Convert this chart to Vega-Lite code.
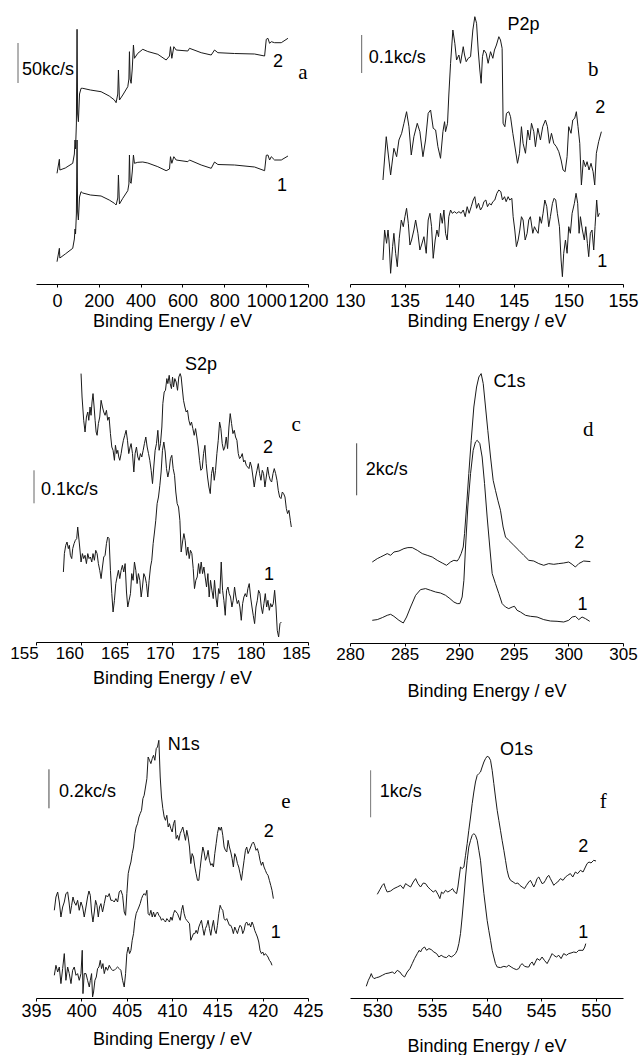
{
"$schema": "https://vega.github.io/schema/vega-lite/v6.json",
"background": "white",
"padding": {"left": 9, "top": 14, "right": 5, "bottom": 5},
"bounds": "flush",
"align": "each",
"columns": 2,
"spacing": {"row": 40, "column": 42},
"config": {
 "view": {"stroke": null},
 "axis": {"grid": false, "domainColor": "#000", "tickColor": "#000", "labelColor": "#000", "titleColor": "#000", "labelFont": "Liberation Sans", "titleFont": "Liberation Sans", "labelFontSize": 17, "titleFontSize": 18, "titleFontWeight": "normal", "tickSize": 3, "labelFlush": false, "labelOverlap": false, "domainWidth": 1, "tickWidth": 1, "format": "d"},
 "text": {"font": "Liberation Sans", "color": "#000"}
},
"concat": [
 {"width": 272, "height": 270,
  "layer": [
   {"data": {"values": [
    {"E":0.5,"I":22.3,"s":1},{"E":11.7,"I":35.7,"s":1},{"E":14,"I":26,"s":1},{"E":40,"I":30,"s":1},{"E":75.5,"I":35.7,"s":1},{"E":83.4,"I":45,"s":1},{"E":86.6,"I":55,"s":1},{"E":89,"I":50,"s":1},{"E":93,"I":70,"s":1},{"E":96.2,"I":144,"s":1},{"E":99,"I":72,"s":1},{"E":102.6,"I":64,"s":1},{"E":108,"I":87,"s":1},{"E":115.3,"I":92.3,"s":1},{"E":123.3,"I":91,"s":1},{"E":160,"I":89,"s":1},{"E":211,"I":88,"s":1},{"E":250,"I":84,"s":1},{"E":274.8,"I":80.7,"s":1},{"E":282.8,"I":79,"s":1},{"E":290.8,"I":86,"s":1},{"E":294,"I":109,"s":1},{"E":298.8,"I":80,"s":1},{"E":314.7,"I":85.7,"s":1},{"E":338.6,"I":93.3,"s":1},{"E":344,"I":100,"s":1},{"E":346.6,"I":129,"s":1},{"E":350,"I":102,"s":1},{"E":354.6,"I":100.7,"s":1},{"E":360,"I":112,"s":1},{"E":365.7,"I":129,"s":1},{"E":370.5,"I":120.7,"s":1},{"E":386.5,"I":121.7,"s":1},{"E":410.4,"I":122,"s":1},{"E":434.3,"I":121,"s":1},{"E":482.2,"I":117.3,"s":1},{"E":522,"I":113.3,"s":1},{"E":538,"I":115,"s":1},{"E":542.8,"I":127.3,"s":1},{"E":549.2,"I":120.7,"s":1},{"E":558.7,"I":127.3,"s":1},{"E":569.9,"I":124,"s":1},{"E":625.7,"I":122.3,"s":1},{"E":633.7,"I":124,"s":1},{"E":689.5,"I":119,"s":1},{"E":737.4,"I":115.7,"s":1},{"E":753.3,"I":122,"s":1},{"E":769.3,"I":119.5,"s":1},{"E":849,"I":119,"s":1},{"E":944.7,"I":117,"s":1},{"E":992.6,"I":113.3,"s":1},{"E":1000.6,"I":128.7,"s":1},{"E":1008.5,"I":129,"s":1},{"E":1016.5,"I":124,"s":1},{"E":1024.5,"I":127.3,"s":1},{"E":1040.4,"I":124,"s":1},{"E":1072.3,"I":124,"s":1},{"E":1104.2,"I":128,"s":1},
    {"E":0.5,"I":110.7,"s":2},{"E":11.7,"I":124.7,"s":2},{"E":14,"I":114,"s":2},{"E":40,"I":116,"s":2},{"E":75.5,"I":120.7,"s":2},{"E":83.4,"I":130,"s":2},{"E":86.6,"I":144,"s":2},{"E":89,"I":135,"s":2},{"E":93,"I":160,"s":2},{"E":96.2,"I":254.7,"s":2},{"E":99,"I":170,"s":2},{"E":102.6,"I":162.3,"s":2},{"E":108,"I":190,"s":2},{"E":115.3,"I":195.7,"s":2},{"E":123.3,"I":195.7,"s":2},{"E":160,"I":194,"s":2},{"E":211,"I":192.3,"s":2},{"E":250,"I":188,"s":2},{"E":274.8,"I":184,"s":2},{"E":282.8,"I":181.3,"s":2},{"E":290.8,"I":190,"s":2},{"E":294,"I":214,"s":2},{"E":298.8,"I":184,"s":2},{"E":314.7,"I":189,"s":2},{"E":338.6,"I":197.3,"s":2},{"E":344,"I":205,"s":2},{"E":346.6,"I":232.3,"s":2},{"E":350,"I":205,"s":2},{"E":354.6,"I":200.7,"s":2},{"E":360,"I":215,"s":2},{"E":365.7,"I":239,"s":2},{"E":370.5,"I":225.7,"s":2},{"E":386.5,"I":230.7,"s":2},{"E":410.4,"I":234.7,"s":2},{"E":434.3,"I":232.5,"s":2},{"E":482.2,"I":229.7,"s":2},{"E":522,"I":224,"s":2},{"E":538,"I":228,"s":2},{"E":542.8,"I":237.3,"s":2},{"E":549.2,"I":225.7,"s":2},{"E":558.7,"I":237.3,"s":2},{"E":569.9,"I":234,"s":2},{"E":625.7,"I":233,"s":2},{"E":633.7,"I":235.7,"s":2},{"E":689.5,"I":231.3,"s":2},{"E":737.4,"I":229,"s":2},{"E":753.3,"I":234,"s":2},{"E":769.3,"I":231.3,"s":2},{"E":849,"I":230.5,"s":2},{"E":944.7,"I":230,"s":2},{"E":992.6,"I":228,"s":2},{"E":1000.6,"I":244.7,"s":2},{"E":1008.5,"I":245.7,"s":2},{"E":1016.5,"I":240.7,"s":2},{"E":1024.5,"I":242.3,"s":2},{"E":1040.4,"I":241.3,"s":2},{"E":1072.3,"I":241.3,"s":2},{"E":1104.2,"I":245.7,"s":2}
   ]},
    "mark": {"type": "line", "color": "#1a1a1a", "strokeWidth": 1},
    "encoding": {
     "x": {"field": "E", "type": "quantitative", "title": "Binding Energy / eV", "scale": {"domain": [-100, 1200], "nice": false, "zero": false},
       "axis": {"values": [0,100,200,300,400,500,600,700,800,900,1000,1100,1200], "labelExpr": "datum.value % 200 === 0 ? datum.label : ''", "labelOverlap": false, "labelFlush": false, "labelPadding": 5, "labelFontSize": 18, "titleY": 28}},
     "y": {"field": "I", "type": "quantitative", "scale": {"domain": [0, 270], "nice": false, "zero": false}, "axis": null},
     "detail": {"field": "s", "type": "nominal"}}},
   {"data": {"values": [{"E": -186, "I": 201, "I2": 241}]}, "mark": {"type": "rule", "color": "#666", "strokeWidth": 1},
    "encoding": {"x": {"field": "E", "type": "quantitative", "title": "Binding Energy / eV"}, "y": {"field": "I", "type": "quantitative", "axis": null}, "y2": {"field": "I2"}}},
   {"data": {"values": [{"E": -167, "I": 214.5, "t": "50kc/s"}]}, "mark": {"type": "text", "align": "left", "baseline": "middle", "fontSize": 18},
    "encoding": {"x": {"field": "E", "type": "quantitative", "title": "Binding Energy / eV"}, "y": {"field": "I", "type": "quantitative", "axis": null}, "text": {"field": "t"}}},
   {"data": {"values": [{"E": 1057, "I": 222, "t": "2"}, {"E": 1076, "I": 98, "t": "1"}]}, "mark": {"type": "text", "align": "center", "baseline": "middle", "fontSize": 18},
    "encoding": {"x": {"field": "E", "type": "quantitative", "title": "Binding Energy / eV"}, "y": {"field": "I", "type": "quantitative", "axis": null}, "text": {"field": "t"}}},
   {"data": {"values": [{"E": 1176, "I": 211, "t": "a"}]}, "mark": {"type": "text", "align": "center", "baseline": "middle", "fontSize": 21, "font": "Liberation Serif"},
    "encoding": {"x": {"field": "E", "type": "quantitative", "title": "Binding Energy / eV"}, "y": {"field": "I", "type": "quantitative", "axis": null}, "text": {"field": "t"}}}
  ]},
 {"width": 273, "height": 270,
  "layer": [
   {"data": {"values": [
    {"E":133.02,"I":24,"s":1},{"E":133.17,"I":54,"s":1},{"E":133.35,"I":40.7,"s":1},{"E":133.48,"I":54,"s":1},{"E":133.57,"I":44,"s":1},{"E":133.72,"I":10.7,"s":1},{"E":133.90,"I":37.3,"s":1},{"E":134.02,"I":50.7,"s":1},{"E":134.18,"I":30.7,"s":1},{"E":134.33,"I":17.3,"s":1},{"E":134.51,"I":45.7,"s":1},{"E":134.70,"I":64,"s":1},{"E":134.88,"I":57.3,"s":1},{"E":135.03,"I":67.3,"s":1},{"E":135.18,"I":75.7,"s":1},{"E":135.34,"I":60.7,"s":1},{"E":135.49,"I":39,"s":1},{"E":135.64,"I":44,"s":1},{"E":135.85,"I":54,"s":1},{"E":136.01,"I":64,"s":1},{"E":136.22,"I":50.7,"s":1},{"E":136.40,"I":34,"s":1},{"E":136.55,"I":39,"s":1},{"E":136.77,"I":47.3,"s":1},{"E":136.98,"I":30.7,"s":1},{"E":137.16,"I":64,"s":1},{"E":137.32,"I":70.7,"s":1},{"E":137.47,"I":57.3,"s":1},{"E":137.62,"I":25.7,"s":1},{"E":137.80,"I":44,"s":1},{"E":137.96,"I":54,"s":1},{"E":138.11,"I":47.3,"s":1},{"E":138.29,"I":70.7,"s":1},{"E":138.45,"I":60.7,"s":1},{"E":138.60,"I":74,"s":1},{"E":138.75,"I":50.7,"s":1},{"E":138.90,"I":44,"s":1},{"E":139.05,"I":67.3,"s":1},{"E":139.21,"I":74,"s":1},{"E":139.36,"I":70.7,"s":1},{"E":139.57,"I":72.3,"s":1},{"E":139.76,"I":70.7,"s":1},{"E":139.97,"I":72.3,"s":1},{"E":140.18,"I":70.7,"s":1},{"E":140.37,"I":74,"s":1},{"E":140.55,"I":67.3,"s":1},{"E":140.73,"I":77.3,"s":1},{"E":140.91,"I":70.7,"s":1},{"E":141.10,"I":77.3,"s":1},{"E":141.28,"I":84,"s":1},{"E":141.43,"I":87.3,"s":1},{"E":141.59,"I":75.7,"s":1},{"E":141.77,"I":80.7,"s":1},{"E":141.95,"I":74,"s":1},{"E":142.13,"I":77.3,"s":1},{"E":142.26,"I":82.3,"s":1},{"E":142.44,"I":84,"s":1},{"E":142.59,"I":77.3,"s":1},{"E":142.77,"I":80.7,"s":1},{"E":142.93,"I":79,"s":1},{"E":143.08,"I":82.3,"s":1},{"E":143.26,"I":84,"s":1},{"E":143.45,"I":90.7,"s":1},{"E":143.63,"I":94,"s":1},{"E":143.81,"I":92.3,"s":1},{"E":143.96,"I":84,"s":1},{"E":144.15,"I":87.3,"s":1},{"E":144.30,"I":82.3,"s":1},{"E":144.48,"I":87.3,"s":1},{"E":144.63,"I":84,"s":1},{"E":144.82,"I":85.7,"s":1},{"E":144.94,"I":67.3,"s":1},{"E":145.09,"I":54,"s":1},{"E":145.24,"I":37.3,"s":1},{"E":145.40,"I":44,"s":1},{"E":145.55,"I":54,"s":1},{"E":145.70,"I":67.3,"s":1},{"E":145.85,"I":64,"s":1},{"E":146.04,"I":44,"s":1},{"E":146.22,"I":50.7,"s":1},{"E":146.37,"I":64,"s":1},{"E":146.52,"I":67.3,"s":1},{"E":146.74,"I":50.7,"s":1},{"E":146.89,"I":57.3,"s":1},{"E":147.04,"I":54,"s":1},{"E":147.23,"I":50.7,"s":1},{"E":147.38,"I":67.3,"s":1},{"E":147.53,"I":60.7,"s":1},{"E":147.68,"I":70.7,"s":1},{"E":147.84,"I":84,"s":1},{"E":148.02,"I":77.3,"s":1},{"E":148.20,"I":57.3,"s":1},{"E":148.35,"I":67.3,"s":1},{"E":148.54,"I":80.7,"s":1},{"E":148.69,"I":85.7,"s":1},{"E":148.84,"I":84,"s":1},{"E":148.99,"I":70.7,"s":1},{"E":149.18,"I":57.3,"s":1},{"E":149.33,"I":24,"s":1},{"E":149.45,"I":7.3,"s":1},{"E":149.57,"I":30.7,"s":1},{"E":149.73,"I":44,"s":1},{"E":149.88,"I":30.7,"s":1},{"E":150.03,"I":57.3,"s":1},{"E":150.18,"I":50.7,"s":1},{"E":150.34,"I":70.7,"s":1},{"E":150.55,"I":80.7,"s":1},{"E":150.70,"I":90.7,"s":1},{"E":150.85,"I":80.7,"s":1},{"E":150.98,"I":50.7,"s":1},{"E":151.10,"I":67.3,"s":1},{"E":151.28,"I":54,"s":1},{"E":151.46,"I":44,"s":1},{"E":151.59,"I":57.3,"s":1},{"E":151.74,"I":40.7,"s":1},{"E":151.86,"I":27.3,"s":1},{"E":152.01,"I":50.7,"s":1},{"E":152.16,"I":54,"s":1},{"E":152.32,"I":34,"s":1},{"E":152.44,"I":57.3,"s":1},{"E":152.59,"I":84,"s":1},{"E":152.71,"I":67.3,"s":1},{"E":152.84,"I":70.7,"s":1},
    {"E":133.02,"I":104,"s":2},{"E":133.32,"I":147.3,"s":2},{"E":133.72,"I":109,"s":2},{"E":134.02,"I":135.7,"s":2},{"E":134.27,"I":127.3,"s":2},{"E":134.48,"I":144,"s":2},{"E":134.73,"I":150.7,"s":2},{"E":134.94,"I":160.7,"s":2},{"E":135.18,"I":172.3,"s":2},{"E":135.40,"I":157.3,"s":2},{"E":135.61,"I":129,"s":2},{"E":135.85,"I":147.3,"s":2},{"E":136.16,"I":160.7,"s":2},{"E":136.40,"I":152.3,"s":2},{"E":136.68,"I":127.3,"s":2},{"E":136.92,"I":144,"s":2},{"E":137.16,"I":170.7,"s":2},{"E":137.38,"I":174,"s":2},{"E":137.62,"I":155.7,"s":2},{"E":137.84,"I":154,"s":2},{"E":138.05,"I":137.3,"s":2},{"E":138.29,"I":125.7,"s":2},{"E":138.51,"I":152.3,"s":2},{"E":138.66,"I":162.3,"s":2},{"E":138.75,"I":152.3,"s":2},{"E":138.93,"I":160.7,"s":2},{"E":139.05,"I":189,"s":2},{"E":139.21,"I":220.7,"s":2},{"E":139.42,"I":254,"s":2},{"E":139.60,"I":240.7,"s":2},{"E":139.76,"I":224,"s":2},{"E":139.97,"I":229,"s":2},{"E":140.12,"I":220.7,"s":2},{"E":140.37,"I":237.3,"s":2},{"E":140.49,"I":229,"s":2},{"E":140.64,"I":222.3,"s":2},{"E":140.82,"I":225.7,"s":2},{"E":141.04,"I":227.3,"s":2},{"E":141.25,"I":254,"s":2},{"E":141.43,"I":267.3,"s":2},{"E":141.59,"I":260.7,"s":2},{"E":141.74,"I":234,"s":2},{"E":141.89,"I":214,"s":2},{"E":142.01,"I":200.7,"s":2},{"E":142.13,"I":227.3,"s":2},{"E":142.26,"I":234,"s":2},{"E":142.47,"I":230.7,"s":2},{"E":142.65,"I":220.7,"s":2},{"E":142.87,"I":232.3,"s":2},{"E":143.08,"I":225.7,"s":2},{"E":143.23,"I":234,"s":2},{"E":143.41,"I":239,"s":2},{"E":143.63,"I":247.3,"s":2},{"E":143.78,"I":244,"s":2},{"E":143.93,"I":235.7,"s":2},{"E":144.02,"I":160.7,"s":2},{"E":144.18,"I":157.3,"s":2},{"E":144.33,"I":170.7,"s":2},{"E":144.54,"I":172.3,"s":2},{"E":144.70,"I":167.3,"s":2},{"E":144.91,"I":150.7,"s":2},{"E":145.15,"I":134,"s":2},{"E":145.34,"I":120.7,"s":2},{"E":145.52,"I":130.7,"s":2},{"E":145.70,"I":157.3,"s":2},{"E":145.85,"I":140.7,"s":2},{"E":146.07,"I":130.7,"s":2},{"E":146.28,"I":154,"s":2},{"E":146.46,"I":144,"s":2},{"E":146.62,"I":160.7,"s":2},{"E":146.83,"I":152.3,"s":2},{"E":146.98,"I":137.3,"s":2},{"E":147.20,"I":155.7,"s":2},{"E":147.44,"I":144,"s":2},{"E":147.65,"I":157.3,"s":2},{"E":147.90,"I":164,"s":2},{"E":148.08,"I":157.3,"s":2},{"E":148.26,"I":140.7,"s":2},{"E":148.45,"I":150.7,"s":2},{"E":148.66,"I":140.7,"s":2},{"E":148.90,"I":137.3,"s":2},{"E":149.12,"I":132.3,"s":2},{"E":149.33,"I":124,"s":2},{"E":149.51,"I":114,"s":2},{"E":149.70,"I":112.3,"s":2},{"E":149.88,"I":127.3,"s":2},{"E":150.03,"I":157.3,"s":2},{"E":150.24,"I":150.7,"s":2},{"E":150.40,"I":164,"s":2},{"E":150.58,"I":165.7,"s":2},{"E":150.73,"I":172.3,"s":2},{"E":150.88,"I":157.3,"s":2},{"E":151.04,"I":140.7,"s":2},{"E":151.19,"I":99,"s":2},{"E":151.37,"I":124,"s":2},{"E":151.56,"I":117.3,"s":2},{"E":151.71,"I":122.3,"s":2},{"E":151.89,"I":114,"s":2},{"E":152.07,"I":120.7,"s":2},{"E":152.26,"I":112.3,"s":2},{"E":152.41,"I":99,"s":2},{"E":152.56,"I":130.7,"s":2},{"E":152.77,"I":142.3,"s":2},{"E":153.02,"I":152.3,"s":2}
   ]},
    "mark": {"type": "line", "color": "#1a1a1a", "strokeWidth": 1},
    "encoding": {
     "x": {"field": "E", "type": "quantitative", "title": "Binding Energy / eV", "scale": {"domain": [130, 155], "nice": false, "zero": false},
       "axis": {"values": [130,132.5,135,137.5,140,142.5,145,147.5,150,152.5,155], "labelExpr": "datum.value % 5 === 0 ? datum.label : ''", "labelOverlap": false, "labelFlush": false, "labelPadding": 5, "labelFontSize": 18, "titleY": 28}},
     "y": {"field": "I", "type": "quantitative", "scale": {"domain": [0, 270], "nice": false, "zero": false}, "axis": null},
     "detail": {"field": "s", "type": "nominal"}}},
   {"data": {"values": [{"E": 131.07, "I": 211, "I2": 249}]}, "mark": {"type": "rule", "color": "#666", "strokeWidth": 1},
    "encoding": {"x": {"field": "E", "type": "quantitative", "title": "Binding Energy / eV"}, "y": {"field": "I", "type": "quantitative", "axis": null}, "y2": {"field": "I2"}}},
   {"data": {"values": [{"E": 131.71, "I": 226, "t": "0.1kc/s"}]}, "mark": {"type": "text", "align": "left", "baseline": "middle", "fontSize": 18},
    "encoding": {"x": {"field": "E", "type": "quantitative", "title": "Binding Energy / eV"}, "y": {"field": "I", "type": "quantitative", "axis": null}, "text": {"field": "t"}}},
   {"data": {"values": [{"E": 145.88, "I": 259, "t": "P2p"}, {"E": 152.92, "I": 176, "t": "2"}, {"E": 153.1, "I": 22, "t": "1"}]}, "mark": {"type": "text", "align": "center", "baseline": "middle", "fontSize": 18},
    "encoding": {"x": {"field": "E", "type": "quantitative", "title": "Binding Energy / eV"}, "y": {"field": "I", "type": "quantitative", "axis": null}, "text": {"field": "t"}}},
   {"data": {"values": [{"E": 152.28, "I": 214, "t": "b"}]}, "mark": {"type": "text", "align": "center", "baseline": "middle", "fontSize": 21, "font": "Liberation Serif"},
    "encoding": {"x": {"field": "E", "type": "quantitative", "title": "Binding Energy / eV"}, "y": {"field": "I", "type": "quantitative", "axis": null}, "text": {"field": "t"}}}
  ]},
 {"width": 272, "height": 318,
  "layer": [
   {"data": {"values": [
    {"E":158.02,"I":70,"s":1},{"E":158.13,"I":88.4,"s":1},{"E":158.28,"I":96.7,"s":1},{"E":158.42,"I":100,"s":1},{"E":158.57,"I":93.4,"s":1},{"E":158.68,"I":96.7,"s":1},{"E":158.79,"I":86.7,"s":1},{"E":158.94,"I":83.4,"s":1},{"E":159.05,"I":93.4,"s":1},{"E":159.20,"I":98.4,"s":1},{"E":159.34,"I":101.7,"s":1},{"E":159.49,"I":103.4,"s":1},{"E":159.60,"I":115,"s":1},{"E":159.71,"I":105,"s":1},{"E":159.82,"I":95,"s":1},{"E":159.97,"I":80,"s":1},{"E":160.12,"I":88.4,"s":1},{"E":160.26,"I":83.4,"s":1},{"E":160.41,"I":86.7,"s":1},{"E":160.56,"I":78.4,"s":1},{"E":160.71,"I":88.4,"s":1},{"E":160.85,"I":83.4,"s":1},{"E":161.00,"I":85,"s":1},{"E":161.15,"I":80,"s":1},{"E":161.29,"I":88.4,"s":1},{"E":161.44,"I":81.7,"s":1},{"E":161.59,"I":91.7,"s":1},{"E":161.74,"I":88.4,"s":1},{"E":161.88,"I":78.4,"s":1},{"E":162.03,"I":71.7,"s":1},{"E":162.18,"I":63.4,"s":1},{"E":162.33,"I":75,"s":1},{"E":162.47,"I":85,"s":1},{"E":162.62,"I":86.7,"s":1},{"E":162.77,"I":98.4,"s":1},{"E":162.91,"I":105,"s":1},{"E":163.06,"I":103.4,"s":1},{"E":163.21,"I":71.7,"s":1},{"E":163.36,"I":48.4,"s":1},{"E":163.50,"I":30,"s":1},{"E":163.65,"I":41.7,"s":1},{"E":163.80,"I":58.4,"s":1},{"E":163.94,"I":65,"s":1},{"E":164.09,"I":71.7,"s":1},{"E":164.24,"I":63.4,"s":1},{"E":164.39,"I":71.7,"s":1},{"E":164.53,"I":76.7,"s":1},{"E":164.68,"I":70,"s":1},{"E":164.83,"I":78.4,"s":1},{"E":164.98,"I":50,"s":1},{"E":165.12,"I":35,"s":1},{"E":165.27,"I":41.7,"s":1},{"E":165.42,"I":48.4,"s":1},{"E":165.56,"I":68.4,"s":1},{"E":165.71,"I":61.7,"s":1},{"E":165.86,"I":80,"s":1},{"E":166.01,"I":71.7,"s":1},{"E":166.15,"I":58.4,"s":1},{"E":166.30,"I":68.4,"s":1},{"E":166.45,"I":61.7,"s":1},{"E":166.60,"I":45,"s":1},{"E":166.74,"I":55,"s":1},{"E":166.89,"I":68.4,"s":1},{"E":167.04,"I":65,"s":1},{"E":167.18,"I":58.4,"s":1},{"E":167.33,"I":45,"s":1},{"E":167.48,"I":61.7,"s":1},{"E":167.63,"I":75,"s":1},{"E":167.77,"I":81.7,"s":1},{"E":167.92,"I":98.4,"s":1},{"E":168.07,"I":110,"s":1},{"E":168.21,"I":121.7,"s":1},{"E":168.36,"I":138.4,"s":1},{"E":168.51,"I":145,"s":1},{"E":168.66,"I":156.7,"s":1},{"E":168.80,"I":170,"s":1},{"E":168.95,"I":191.7,"s":1},{"E":169.10,"I":200,"s":1},{"E":169.25,"I":190,"s":1},{"E":169.39,"I":173.4,"s":1},{"E":169.54,"I":165,"s":1},{"E":169.69,"I":171.7,"s":1},{"E":169.83,"I":183.4,"s":1},{"E":169.98,"I":186.7,"s":1},{"E":170.13,"I":173.4,"s":1},{"E":170.28,"I":166.7,"s":1},{"E":170.42,"I":150,"s":1},{"E":170.57,"I":138.4,"s":1},{"E":170.72,"I":135,"s":1},{"E":170.87,"I":121.7,"s":1},{"E":171.01,"I":90,"s":1},{"E":171.16,"I":100,"s":1},{"E":171.31,"I":108.4,"s":1},{"E":171.45,"I":101.7,"s":1},{"E":171.60,"I":86.7,"s":1},{"E":171.75,"I":95,"s":1},{"E":171.90,"I":83.4,"s":1},{"E":172.04,"I":91.7,"s":1},{"E":172.19,"I":88.4,"s":1},{"E":172.34,"I":73.4,"s":1},{"E":172.48,"I":53.4,"s":1},{"E":172.63,"I":61.7,"s":1},{"E":172.78,"I":65,"s":1},{"E":172.93,"I":78.4,"s":1},{"E":173.07,"I":68.4,"s":1},{"E":173.22,"I":80,"s":1},{"E":173.37,"I":68.4,"s":1},{"E":173.52,"I":75,"s":1},{"E":173.66,"I":65,"s":1},{"E":173.81,"I":55,"s":1},{"E":173.96,"I":68.4,"s":1},{"E":174.10,"I":45,"s":1},{"E":174.25,"I":61.7,"s":1},{"E":174.40,"I":51.7,"s":1},{"E":174.55,"I":43.4,"s":1},{"E":174.69,"I":61.7,"s":1},{"E":174.84,"I":45,"s":1},{"E":174.99,"I":35,"s":1},{"E":175.14,"I":53.4,"s":1},{"E":175.28,"I":48.4,"s":1},{"E":175.43,"I":80,"s":1},{"E":175.58,"I":51.7,"s":1},{"E":175.72,"I":41.7,"s":1},{"E":175.87,"I":26.7,"s":1},{"E":176.02,"I":51.7,"s":1},{"E":176.17,"I":55,"s":1},{"E":176.31,"I":48.4,"s":1},{"E":176.46,"I":45,"s":1},{"E":176.61,"I":35,"s":1},{"E":176.75,"I":41.7,"s":1},{"E":176.90,"I":55,"s":1},{"E":177.05,"I":45,"s":1},{"E":177.20,"I":38.4,"s":1},{"E":177.34,"I":41.7,"s":1},{"E":177.49,"I":35,"s":1},{"E":177.64,"I":21.7,"s":1},{"E":177.79,"I":38.4,"s":1},{"E":177.93,"I":45,"s":1},{"E":178.08,"I":48.4,"s":1},{"E":178.23,"I":45,"s":1},{"E":178.37,"I":53.4,"s":1},{"E":178.52,"I":58.4,"s":1},{"E":178.67,"I":45,"s":1},{"E":178.82,"I":35,"s":1},{"E":178.96,"I":26.7,"s":1},{"E":179.11,"I":18.4,"s":1},{"E":179.26,"I":35,"s":1},{"E":179.41,"I":41.7,"s":1},{"E":179.55,"I":51.7,"s":1},{"E":179.70,"I":48.4,"s":1},{"E":179.85,"I":35,"s":1},{"E":179.99,"I":28.4,"s":1},{"E":180.14,"I":38.4,"s":1},{"E":180.29,"I":48.4,"s":1},{"E":180.44,"I":35,"s":1},{"E":180.58,"I":41.7,"s":1},{"E":180.73,"I":31.7,"s":1},{"E":180.88,"I":38.4,"s":1},{"E":181.02,"I":35,"s":1},{"E":181.17,"I":38.4,"s":1},{"E":181.32,"I":51.7,"s":1},{"E":181.47,"I":35,"s":1},{"E":181.61,"I":11.7,"s":1},{"E":181.76,"I":5,"s":1},{"E":181.91,"I":18.4,"s":1},{"E":182.06,"I":20,"s":1},
    {"E":159.97,"I":268.4,"s":2},{"E":160.08,"I":245,"s":2},{"E":160.26,"I":221.7,"s":2},{"E":160.41,"I":210,"s":2},{"E":160.56,"I":225,"s":2},{"E":160.71,"I":230,"s":2},{"E":160.82,"I":221.7,"s":2},{"E":160.96,"I":235,"s":2},{"E":161.07,"I":226.7,"s":2},{"E":161.18,"I":240,"s":2},{"E":161.29,"I":248.4,"s":2},{"E":161.41,"I":235,"s":2},{"E":161.52,"I":221.7,"s":2},{"E":161.63,"I":210,"s":2},{"E":161.74,"I":206.7,"s":2},{"E":161.88,"I":218.4,"s":2},{"E":162.03,"I":225,"s":2},{"E":162.18,"I":241.7,"s":2},{"E":162.33,"I":235,"s":2},{"E":162.47,"I":230,"s":2},{"E":162.62,"I":226.7,"s":2},{"E":162.77,"I":231.7,"s":2},{"E":162.91,"I":221.7,"s":2},{"E":163.06,"I":225,"s":2},{"E":163.21,"I":208.4,"s":2},{"E":163.36,"I":195,"s":2},{"E":163.50,"I":191.7,"s":2},{"E":163.65,"I":181.7,"s":2},{"E":163.76,"I":196.7,"s":2},{"E":163.91,"I":188.4,"s":2},{"E":164.02,"I":191.7,"s":2},{"E":164.13,"I":185,"s":2},{"E":164.24,"I":181.7,"s":2},{"E":164.39,"I":188.4,"s":2},{"E":164.50,"I":195,"s":2},{"E":164.64,"I":201.7,"s":2},{"E":164.79,"I":206.7,"s":2},{"E":164.94,"I":211.7,"s":2},{"E":165.09,"I":201.7,"s":2},{"E":165.23,"I":188.4,"s":2},{"E":165.38,"I":195,"s":2},{"E":165.49,"I":198.4,"s":2},{"E":165.64,"I":188.4,"s":2},{"E":165.79,"I":170,"s":2},{"E":165.93,"I":188.4,"s":2},{"E":166.08,"I":195,"s":2},{"E":166.23,"I":185,"s":2},{"E":166.37,"I":181.7,"s":2},{"E":166.52,"I":188.4,"s":2},{"E":166.67,"I":185,"s":2},{"E":166.82,"I":191.7,"s":2},{"E":166.96,"I":198.4,"s":2},{"E":167.11,"I":205,"s":2},{"E":167.26,"I":195,"s":2},{"E":167.41,"I":188.4,"s":2},{"E":167.55,"I":181.7,"s":2},{"E":167.70,"I":171.7,"s":2},{"E":167.85,"I":158.4,"s":2},{"E":167.99,"I":175,"s":2},{"E":168.14,"I":191.7,"s":2},{"E":168.29,"I":198.4,"s":2},{"E":168.44,"I":211.7,"s":2},{"E":168.58,"I":191.7,"s":2},{"E":168.73,"I":198.4,"s":2},{"E":168.88,"I":215,"s":2},{"E":168.99,"I":238.4,"s":2},{"E":169.14,"I":250,"s":2},{"E":169.28,"I":251.7,"s":2},{"E":169.43,"I":263.4,"s":2},{"E":169.54,"I":258.4,"s":2},{"E":169.69,"I":266.7,"s":2},{"E":169.80,"I":258.4,"s":2},{"E":169.94,"I":253.4,"s":2},{"E":170.06,"I":265,"s":2},{"E":170.17,"I":255,"s":2},{"E":170.31,"I":263.4,"s":2},{"E":170.46,"I":260,"s":2},{"E":170.61,"I":251.7,"s":2},{"E":170.75,"I":265,"s":2},{"E":170.90,"I":268.4,"s":2},{"E":171.01,"I":265,"s":2},{"E":171.12,"I":255,"s":2},{"E":171.27,"I":241.7,"s":2},{"E":171.42,"I":235,"s":2},{"E":171.56,"I":230,"s":2},{"E":171.71,"I":231.7,"s":2},{"E":171.86,"I":221.7,"s":2},{"E":172.01,"I":216.7,"s":2},{"E":172.15,"I":220,"s":2},{"E":172.30,"I":213.4,"s":2},{"E":172.45,"I":206.7,"s":2},{"E":172.60,"I":213.4,"s":2},{"E":172.74,"I":205,"s":2},{"E":172.89,"I":195,"s":2},{"E":173.04,"I":181.7,"s":2},{"E":173.18,"I":171.7,"s":2},{"E":173.33,"I":173.4,"s":2},{"E":173.48,"I":188.4,"s":2},{"E":173.63,"I":196.7,"s":2},{"E":173.77,"I":178.4,"s":2},{"E":173.92,"I":165,"s":2},{"E":174.07,"I":155,"s":2},{"E":174.22,"I":148.4,"s":2},{"E":174.36,"I":168.4,"s":2},{"E":174.51,"I":175,"s":2},{"E":174.66,"I":161.7,"s":2},{"E":174.80,"I":171.7,"s":2},{"E":174.95,"I":188.4,"s":2},{"E":175.10,"I":201.7,"s":2},{"E":175.25,"I":220,"s":2},{"E":175.39,"I":213.4,"s":2},{"E":175.54,"I":198.4,"s":2},{"E":175.69,"I":191.7,"s":2},{"E":175.83,"I":195,"s":2},{"E":175.98,"I":205,"s":2},{"E":176.13,"I":193.4,"s":2},{"E":176.28,"I":215,"s":2},{"E":176.42,"I":228.4,"s":2},{"E":176.57,"I":218.4,"s":2},{"E":176.72,"I":208.4,"s":2},{"E":176.87,"I":211.7,"s":2},{"E":177.01,"I":205,"s":2},{"E":177.16,"I":201.7,"s":2},{"E":177.31,"I":188.4,"s":2},{"E":177.45,"I":183.4,"s":2},{"E":177.60,"I":185,"s":2},{"E":177.75,"I":188.4,"s":2},{"E":177.90,"I":180,"s":2},{"E":178.04,"I":181.7,"s":2},{"E":178.19,"I":176.7,"s":2},{"E":178.34,"I":175,"s":2},{"E":178.49,"I":173.4,"s":2},{"E":178.63,"I":180,"s":2},{"E":178.78,"I":175,"s":2},{"E":178.93,"I":165,"s":2},{"E":179.07,"I":155,"s":2},{"E":179.22,"I":165,"s":2},{"E":179.37,"I":171.7,"s":2},{"E":179.52,"I":178.4,"s":2},{"E":179.66,"I":168.4,"s":2},{"E":179.81,"I":161.7,"s":2},{"E":179.96,"I":171.7,"s":2},{"E":180.10,"I":168.4,"s":2},{"E":180.25,"I":155,"s":2},{"E":180.40,"I":165,"s":2},{"E":180.55,"I":175,"s":2},{"E":180.69,"I":166.7,"s":2},{"E":180.84,"I":161.7,"s":2},{"E":180.99,"I":160,"s":2},{"E":181.14,"I":168.4,"s":2},{"E":181.28,"I":173.4,"s":2},{"E":181.43,"I":168.4,"s":2},{"E":181.58,"I":161.7,"s":2},{"E":181.72,"I":151.7,"s":2},{"E":181.87,"I":145,"s":2},{"E":182.02,"I":143.4,"s":2},{"E":182.17,"I":150,"s":2},{"E":182.31,"I":148.4,"s":2},{"E":182.46,"I":145,"s":2},{"E":182.61,"I":133.4,"s":2},{"E":182.75,"I":128.4,"s":2},{"E":182.90,"I":131.7,"s":2},{"E":183.05,"I":121.7,"s":2},{"E":183.16,"I":115,"s":2}
   ]},
    "mark": {"type": "line", "color": "#1a1a1a", "strokeWidth": 1},
    "encoding": {
     "x": {"field": "E", "type": "quantitative", "title": "Binding Energy / eV", "scale": {"domain": [155, 185], "nice": false, "zero": false},
       "axis": {"values": [155,157.5,160,162.5,165,167.5,170,172.5,175,177.5,180,182.5,185], "labelExpr": "datum.value % 5 === 0 ? datum.label : ''", "labelOverlap": false, "labelFlush": false, "labelPadding": 0, "labelOffset": -12, "titleY": 27}},
     "y": {"field": "I", "type": "quantitative", "scale": {"domain": [0, 318], "nice": false, "zero": false}, "axis": null},
     "detail": {"field": "s", "type": "nominal"}}},
   {"data": {"values": [{"E": 154.78, "I": 138.7, "I2": 171.7}]}, "mark": {"type": "rule", "color": "#666", "strokeWidth": 1},
    "encoding": {"x": {"field": "E", "type": "quantitative", "title": "Binding Energy / eV"}, "y": {"field": "I", "type": "quantitative", "axis": null}, "y2": {"field": "I2"}}},
   {"data": {"values": [{"E": 155.55, "I": 151.7, "t": "0.1kc/s"}]}, "mark": {"type": "text", "align": "left", "baseline": "middle", "fontSize": 18},
    "encoding": {"x": {"field": "E", "type": "quantitative", "title": "Binding Energy / eV"}, "y": {"field": "I", "type": "quantitative", "axis": null}, "text": {"field": "t"}}},
   {"data": {"values": [{"E": 173.2, "I": 276.7, "t": "S2p"}, {"E": 180.6, "I": 193.7, "t": "2"}, {"E": 180.7, "I": 66.7, "t": "1"}]}, "mark": {"type": "text", "align": "center", "baseline": "middle", "fontSize": 18},
    "encoding": {"x": {"field": "E", "type": "quantitative", "title": "Binding Energy / eV"}, "y": {"field": "I", "type": "quantitative", "axis": null}, "text": {"field": "t"}}},
   {"data": {"values": [{"E": 183.68, "I": 216.7, "t": "c"}]}, "mark": {"type": "text", "align": "center", "baseline": "middle", "fontSize": 21, "font": "Liberation Serif"},
    "encoding": {"x": {"field": "E", "type": "quantitative", "title": "Binding Energy / eV"}, "y": {"field": "I", "type": "quantitative", "axis": null}, "text": {"field": "t"}}}
  ]},
 {"width": 273, "height": 319,
  "layer": [
   {"data": {"values": [
    {"E":282.04,"I":22.7,"s":1},{"E":282.50,"I":23.4,"s":1},{"E":282.96,"I":25.4,"s":1},{"E":283.41,"I":27.7,"s":1},{"E":283.72,"I":28.7,"s":1},{"E":284.02,"I":26.7,"s":1},{"E":284.48,"I":22.7,"s":1},{"E":284.88,"I":20,"s":1},{"E":285.18,"I":26,"s":1},{"E":285.55,"I":36,"s":1},{"E":286.01,"I":47.7,"s":1},{"E":286.46,"I":53.4,"s":1},{"E":286.92,"I":54.4,"s":1},{"E":287.38,"I":52.7,"s":1},{"E":287.84,"I":51,"s":1},{"E":288.29,"I":50,"s":1},{"E":288.75,"I":47.7,"s":1},{"E":289.15,"I":44.4,"s":1},{"E":289.51,"I":41,"s":1},{"E":289.82,"I":39.4,"s":1},{"E":290.06,"I":39.4,"s":1},{"E":290.27,"I":46,"s":1},{"E":290.43,"I":62.7,"s":1},{"E":290.58,"I":96,"s":1},{"E":290.79,"I":136,"s":1},{"E":291.04,"I":169.4,"s":1},{"E":291.28,"I":192.7,"s":1},{"E":291.49,"I":201,"s":1},{"E":291.65,"I":202.7,"s":1},{"E":291.89,"I":199.4,"s":1},{"E":292.10,"I":186,"s":1},{"E":292.32,"I":159.4,"s":1},{"E":292.56,"I":126,"s":1},{"E":292.80,"I":96,"s":1},{"E":293.02,"I":69.4,"s":1},{"E":293.32,"I":59.4,"s":1},{"E":293.63,"I":49.4,"s":1},{"E":293.93,"I":39.4,"s":1},{"E":294.24,"I":36,"s":1},{"E":294.54,"I":34.4,"s":1},{"E":294.85,"I":36,"s":1},{"E":295.06,"I":36.7,"s":1},{"E":295.30,"I":32.7,"s":1},{"E":295.61,"I":31,"s":1},{"E":296.07,"I":27.7,"s":1},{"E":296.52,"I":26.7,"s":1},{"E":297.13,"I":26,"s":1},{"E":297.74,"I":23.4,"s":1},{"E":298.35,"I":22,"s":1},{"E":298.96,"I":21.7,"s":1},{"E":299.57,"I":21,"s":1},{"E":300.03,"I":22.7,"s":1},{"E":300.34,"I":26,"s":1},{"E":300.64,"I":26.7,"s":1},{"E":300.95,"I":23.4,"s":1},{"E":301.25,"I":26,"s":1},{"E":301.56,"I":24.4,"s":1},{"E":301.95,"I":21.7,"s":1},
    {"E":282.04,"I":81,"s":2},{"E":282.50,"I":84.4,"s":2},{"E":282.80,"I":86,"s":2},{"E":283.11,"I":87.7,"s":2},{"E":283.41,"I":89.4,"s":2},{"E":283.72,"I":87.7,"s":2},{"E":284.02,"I":91,"s":2},{"E":284.48,"I":92,"s":2},{"E":284.94,"I":94.4,"s":2},{"E":285.30,"I":95.4,"s":2},{"E":285.70,"I":95.4,"s":2},{"E":286.16,"I":92.7,"s":2},{"E":286.62,"I":89.4,"s":2},{"E":287.07,"I":87.7,"s":2},{"E":287.53,"I":86,"s":2},{"E":287.99,"I":82.7,"s":2},{"E":288.45,"I":80,"s":2},{"E":288.84,"I":77.7,"s":2},{"E":289.21,"I":81,"s":2},{"E":289.51,"I":82.7,"s":2},{"E":289.82,"I":82,"s":2},{"E":289.97,"I":84.4,"s":2},{"E":290.18,"I":89.4,"s":2},{"E":290.37,"I":96,"s":2},{"E":290.49,"I":109.4,"s":2},{"E":290.67,"I":136,"s":2},{"E":290.88,"I":169.4,"s":2},{"E":291.10,"I":202.7,"s":2},{"E":291.34,"I":236,"s":2},{"E":291.59,"I":256,"s":2},{"E":291.80,"I":266,"s":2},{"E":292.01,"I":269.4,"s":2},{"E":292.20,"I":259.4,"s":2},{"E":292.41,"I":236,"s":2},{"E":292.62,"I":212.7,"s":2},{"E":292.87,"I":186,"s":2},{"E":293.11,"I":162.7,"s":2},{"E":293.32,"I":152.7,"s":2},{"E":293.54,"I":142.7,"s":2},{"E":293.78,"I":132.7,"s":2},{"E":294.02,"I":116,"s":2},{"E":294.24,"I":106,"s":2},{"E":294.54,"I":102.7,"s":2},{"E":295.00,"I":97.7,"s":2},{"E":295.46,"I":92.7,"s":2},{"E":295.91,"I":87.7,"s":2},{"E":296.37,"I":82.7,"s":2},{"E":296.83,"I":82,"s":2},{"E":297.29,"I":79.4,"s":2},{"E":297.74,"I":77.7,"s":2},{"E":298.20,"I":79.4,"s":2},{"E":298.66,"I":78.7,"s":2},{"E":299.12,"I":79.4,"s":2},{"E":299.57,"I":80,"s":2},{"E":300.03,"I":81,"s":2},{"E":300.34,"I":78.7,"s":2},{"E":300.64,"I":76,"s":2},{"E":300.95,"I":79.4,"s":2},{"E":301.40,"I":82,"s":2},{"E":302.01,"I":81.4,"s":2}
   ]},
    "mark": {"type": "line", "color": "#1a1a1a", "strokeWidth": 1},
    "encoding": {
     "x": {"field": "E", "type": "quantitative", "title": "Binding Energy / eV", "scale": {"domain": [280, 305], "nice": false, "zero": false},
       "axis": {"values": [280,282.5,285,287.5,290,292.5,295,297.5,300,302.5,305], "labelExpr": "datum.value % 5 === 0 ? datum.label : ''", "labelOverlap": false, "labelFlush": false, "labelPadding": 0, "titleY": 39}},
     "y": {"field": "I", "type": "quantitative", "scale": {"domain": [0, 319], "nice": false, "zero": false}, "axis": null},
     "detail": {"field": "s", "type": "nominal"}}},
   {"data": {"values": [{"E": 280.61, "I": 147.7, "I2": 199.7}]}, "mark": {"type": "rule", "color": "#444", "strokeWidth": 1},
    "encoding": {"x": {"field": "E", "type": "quantitative", "title": "Binding Energy / eV"}, "y": {"field": "I", "type": "quantitative", "axis": null}, "y2": {"field": "I2"}}},
   {"data": {"values": [{"E": 281.44, "I": 172.7, "t": "2kc/s"}]}, "mark": {"type": "text", "align": "left", "baseline": "middle", "fontSize": 18},
    "encoding": {"x": {"field": "E", "type": "quantitative", "title": "Binding Energy / eV"}, "y": {"field": "I", "type": "quantitative", "axis": null}, "text": {"field": "t"}}},
   {"data": {"values": [{"E": 294.6, "I": 260.7, "t": "C1s"}, {"E": 301.0, "I": 99.7, "t": "2"}, {"E": 301.28, "I": 37.7, "t": "1"}]}, "mark": {"type": "text", "align": "center", "baseline": "middle", "fontSize": 18},
    "encoding": {"x": {"field": "E", "type": "quantitative", "title": "Binding Energy / eV"}, "y": {"field": "I", "type": "quantitative", "axis": null}, "text": {"field": "t"}}},
   {"data": {"values": [{"E": 301.82, "I": 212.7, "t": "d"}]}, "mark": {"type": "text", "align": "center", "baseline": "middle", "fontSize": 21, "font": "Liberation Serif"},
    "encoding": {"x": {"field": "E", "type": "quantitative", "title": "Binding Energy / eV"}, "y": {"field": "I", "type": "quantitative", "axis": null}, "text": {"field": "t"}}}
  ]},
 {"width": 272, "height": 315,
  "layer": [
   {"data": {"values": [
    {"E":397.02,"I":22.7,"s":1},{"E":397.20,"I":32.7,"s":1},{"E":397.39,"I":26,"s":1},{"E":397.57,"I":31,"s":1},{"E":397.75,"I":14.4,"s":1},{"E":397.94,"I":29.4,"s":1},{"E":398.12,"I":44.4,"s":1},{"E":398.30,"I":17.7,"s":1},{"E":398.49,"I":31,"s":1},{"E":398.67,"I":24.4,"s":1},{"E":398.86,"I":14.4,"s":1},{"E":399.04,"I":27.7,"s":1},{"E":399.22,"I":31,"s":1},{"E":399.41,"I":22.7,"s":1},{"E":399.59,"I":24.4,"s":1},{"E":399.77,"I":17.7,"s":1},{"E":399.96,"I":24.4,"s":1},{"E":400.10,"I":47.7,"s":1},{"E":400.18,"I":4.4,"s":1},{"E":400.32,"I":24.4,"s":1},{"E":400.51,"I":24.4,"s":1},{"E":400.69,"I":17.7,"s":1},{"E":400.88,"I":11,"s":1},{"E":400.99,"I":17.7,"s":1},{"E":401.13,"I":24.4,"s":1},{"E":401.24,"I":1,"s":1},{"E":401.35,"I":6,"s":1},{"E":401.50,"I":17.7,"s":1},{"E":401.65,"I":21,"s":1},{"E":401.79,"I":29.4,"s":1},{"E":401.94,"I":31,"s":1},{"E":402.09,"I":37.7,"s":1},{"E":402.23,"I":29.4,"s":1},{"E":402.38,"I":34.4,"s":1},{"E":402.53,"I":24.4,"s":1},{"E":402.71,"I":31,"s":1},{"E":402.89,"I":27.7,"s":1},{"E":403.08,"I":32.7,"s":1},{"E":403.26,"I":29.4,"s":1},{"E":403.45,"I":27.7,"s":1},{"E":403.63,"I":27.7,"s":1},{"E":403.81,"I":29.4,"s":1},{"E":404.00,"I":31,"s":1},{"E":404.18,"I":29.4,"s":1},{"E":404.36,"I":27.7,"s":1},{"E":404.55,"I":17.7,"s":1},{"E":404.73,"I":11,"s":1},{"E":404.88,"I":24.4,"s":1},{"E":405.02,"I":44.4,"s":1},{"E":405.17,"I":51,"s":1},{"E":405.32,"I":44.4,"s":1},{"E":405.47,"I":47.7,"s":1},{"E":405.61,"I":57.7,"s":1},{"E":405.76,"I":64.4,"s":1},{"E":405.91,"I":77.7,"s":1},{"E":406.05,"I":84.4,"s":1},{"E":406.20,"I":87.7,"s":1},{"E":406.35,"I":91,"s":1},{"E":406.49,"I":94.4,"s":1},{"E":406.64,"I":99.4,"s":1},{"E":406.79,"I":102.7,"s":1},{"E":406.93,"I":104.4,"s":1},{"E":407.08,"I":102.7,"s":1},{"E":407.23,"I":107.7,"s":1},{"E":407.37,"I":84.4,"s":1},{"E":407.52,"I":82.7,"s":1},{"E":407.67,"I":87.7,"s":1},{"E":407.82,"I":81,"s":1},{"E":407.96,"I":86,"s":1},{"E":408.11,"I":81,"s":1},{"E":408.26,"I":84.4,"s":1},{"E":408.40,"I":86,"s":1},{"E":408.55,"I":82.7,"s":1},{"E":408.70,"I":81,"s":1},{"E":408.84,"I":77.7,"s":1},{"E":408.99,"I":79.4,"s":1},{"E":409.14,"I":77.7,"s":1},{"E":409.28,"I":76,"s":1},{"E":409.43,"I":79.4,"s":1},{"E":409.58,"I":77.7,"s":1},{"E":409.72,"I":76,"s":1},{"E":409.87,"I":81,"s":1},{"E":410.02,"I":77.7,"s":1},{"E":410.17,"I":84.4,"s":1},{"E":410.31,"I":87.7,"s":1},{"E":410.46,"I":86,"s":1},{"E":410.61,"I":84.4,"s":1},{"E":410.75,"I":81,"s":1},{"E":410.90,"I":77.7,"s":1},{"E":411.05,"I":87.7,"s":1},{"E":411.19,"I":92.7,"s":1},{"E":411.34,"I":84.4,"s":1},{"E":411.49,"I":79.4,"s":1},{"E":411.63,"I":77.7,"s":1},{"E":411.78,"I":76,"s":1},{"E":411.93,"I":74.4,"s":1},{"E":412.07,"I":57.7,"s":1},{"E":412.22,"I":61,"s":1},{"E":412.37,"I":64.4,"s":1},{"E":412.52,"I":64.4,"s":1},{"E":412.66,"I":67.7,"s":1},{"E":412.81,"I":64.4,"s":1},{"E":412.96,"I":71,"s":1},{"E":413.10,"I":74.4,"s":1},{"E":413.25,"I":77.7,"s":1},{"E":413.40,"I":69.4,"s":1},{"E":413.54,"I":62.7,"s":1},{"E":413.69,"I":69.4,"s":1},{"E":413.84,"I":72.7,"s":1},{"E":413.98,"I":77.7,"s":1},{"E":414.13,"I":69.4,"s":1},{"E":414.28,"I":62.7,"s":1},{"E":414.42,"I":71,"s":1},{"E":414.57,"I":77.7,"s":1},{"E":414.72,"I":67.7,"s":1},{"E":414.87,"I":64.4,"s":1},{"E":415.01,"I":72.7,"s":1},{"E":415.16,"I":84.4,"s":1},{"E":415.31,"I":92.7,"s":1},{"E":415.45,"I":89.4,"s":1},{"E":415.60,"I":87.7,"s":1},{"E":415.75,"I":79.4,"s":1},{"E":415.89,"I":77.7,"s":1},{"E":416.04,"I":79.4,"s":1},{"E":416.19,"I":76,"s":1},{"E":416.33,"I":72.7,"s":1},{"E":416.48,"I":72.7,"s":1},{"E":416.63,"I":69.4,"s":1},{"E":416.77,"I":64.4,"s":1},{"E":416.92,"I":71,"s":1},{"E":417.07,"I":67.7,"s":1},{"E":417.22,"I":64.4,"s":1},{"E":417.36,"I":69.4,"s":1},{"E":417.51,"I":72.7,"s":1},{"E":417.66,"I":71,"s":1},{"E":417.80,"I":64.4,"s":1},{"E":417.95,"I":67.7,"s":1},{"E":418.10,"I":74.4,"s":1},{"E":418.24,"I":76,"s":1},{"E":418.39,"I":72.7,"s":1},{"E":418.54,"I":74.4,"s":1},{"E":418.68,"I":71,"s":1},{"E":418.83,"I":76,"s":1},{"E":418.98,"I":72.7,"s":1},{"E":419.12,"I":67.7,"s":1},{"E":419.27,"I":64.4,"s":1},{"E":419.42,"I":61,"s":1},{"E":419.57,"I":56,"s":1},{"E":419.71,"I":47.7,"s":1},{"E":419.86,"I":44.4,"s":1},{"E":420.01,"I":46,"s":1},{"E":420.15,"I":42.7,"s":1},{"E":420.30,"I":44.4,"s":1},{"E":420.45,"I":42.7,"s":1},{"E":420.59,"I":41,"s":1},{"E":420.74,"I":37.7,"s":1},{"E":420.89,"I":36,"s":1},{"E":421.03,"I":32.7,"s":1},
    {"E":397.02,"I":87.7,"s":2},{"E":397.20,"I":101,"s":2},{"E":397.39,"I":106,"s":2},{"E":397.57,"I":96,"s":2},{"E":397.75,"I":81,"s":2},{"E":397.94,"I":91,"s":2},{"E":398.12,"I":96,"s":2},{"E":398.30,"I":104.4,"s":2},{"E":398.49,"I":106,"s":2},{"E":398.64,"I":96,"s":2},{"E":398.78,"I":84.4,"s":2},{"E":398.93,"I":92.7,"s":2},{"E":399.08,"I":101,"s":2},{"E":399.22,"I":96,"s":2},{"E":399.41,"I":92.7,"s":2},{"E":399.59,"I":97.7,"s":2},{"E":399.77,"I":87.7,"s":2},{"E":399.96,"I":96,"s":2},{"E":400.14,"I":91,"s":2},{"E":400.32,"I":81,"s":2},{"E":400.51,"I":91,"s":2},{"E":400.69,"I":101,"s":2},{"E":400.84,"I":107,"s":2},{"E":400.99,"I":102.7,"s":2},{"E":401.13,"I":86,"s":2},{"E":401.28,"I":76,"s":2},{"E":401.43,"I":86,"s":2},{"E":401.57,"I":97.7,"s":2},{"E":401.72,"I":92.7,"s":2},{"E":401.87,"I":81,"s":2},{"E":402.01,"I":91,"s":2},{"E":402.16,"I":94.4,"s":2},{"E":402.34,"I":86,"s":2},{"E":402.53,"I":94.4,"s":2},{"E":402.71,"I":102.7,"s":2},{"E":402.89,"I":101,"s":2},{"E":403.08,"I":104.4,"s":2},{"E":403.26,"I":97.7,"s":2},{"E":403.45,"I":97.7,"s":2},{"E":403.63,"I":96,"s":2},{"E":403.81,"I":99.4,"s":2},{"E":404.00,"I":96,"s":2},{"E":404.18,"I":106,"s":2},{"E":404.36,"I":107.7,"s":2},{"E":404.55,"I":102.7,"s":2},{"E":404.73,"I":86,"s":2},{"E":404.88,"I":82.7,"s":2},{"E":405.02,"I":104.4,"s":2},{"E":405.17,"I":124.4,"s":2},{"E":405.32,"I":131,"s":2},{"E":405.47,"I":136,"s":2},{"E":405.61,"I":144.4,"s":2},{"E":405.76,"I":151,"s":2},{"E":405.91,"I":164.4,"s":2},{"E":406.05,"I":171,"s":2},{"E":406.20,"I":174.4,"s":2},{"E":406.35,"I":181,"s":2},{"E":406.49,"I":184.4,"s":2},{"E":406.64,"I":187.7,"s":2},{"E":406.79,"I":199.4,"s":2},{"E":406.93,"I":202.7,"s":2},{"E":407.08,"I":211,"s":2},{"E":407.23,"I":219.4,"s":2},{"E":407.37,"I":241,"s":2},{"E":407.52,"I":237.7,"s":2},{"E":407.67,"I":234.4,"s":2},{"E":407.82,"I":239.4,"s":2},{"E":407.96,"I":242.7,"s":2},{"E":408.11,"I":237.7,"s":2},{"E":408.26,"I":249.4,"s":2},{"E":408.40,"I":251,"s":2},{"E":408.55,"I":257.7,"s":2},{"E":408.70,"I":221,"s":2},{"E":408.84,"I":201,"s":2},{"E":408.99,"I":189.4,"s":2},{"E":409.14,"I":181,"s":2},{"E":409.28,"I":177.7,"s":2},{"E":409.43,"I":182.7,"s":2},{"E":409.58,"I":171,"s":2},{"E":409.72,"I":174.4,"s":2},{"E":409.87,"I":169.4,"s":2},{"E":410.02,"I":166,"s":2},{"E":410.17,"I":174.4,"s":2},{"E":410.31,"I":177.7,"s":2},{"E":410.46,"I":159.4,"s":2},{"E":410.61,"I":162.7,"s":2},{"E":410.75,"I":157.7,"s":2},{"E":410.90,"I":164.4,"s":2},{"E":411.05,"I":167.7,"s":2},{"E":411.19,"I":171,"s":2},{"E":411.34,"I":164.4,"s":2},{"E":411.49,"I":157.7,"s":2},{"E":411.63,"I":167.7,"s":2},{"E":411.78,"I":161,"s":2},{"E":411.93,"I":151,"s":2},{"E":412.07,"I":134.4,"s":2},{"E":412.22,"I":144.4,"s":2},{"E":412.37,"I":141,"s":2},{"E":412.52,"I":131,"s":2},{"E":412.66,"I":124.4,"s":2},{"E":412.81,"I":117.7,"s":2},{"E":412.96,"I":117.7,"s":2},{"E":413.10,"I":129.4,"s":2},{"E":413.25,"I":141,"s":2},{"E":413.40,"I":151,"s":2},{"E":413.54,"I":146,"s":2},{"E":413.69,"I":137.7,"s":2},{"E":413.84,"I":141,"s":2},{"E":413.98,"I":147.7,"s":2},{"E":414.13,"I":137.7,"s":2},{"E":414.28,"I":132.7,"s":2},{"E":414.42,"I":134.4,"s":2},{"E":414.57,"I":131,"s":2},{"E":414.72,"I":144.4,"s":2},{"E":414.87,"I":154.4,"s":2},{"E":415.01,"I":164.4,"s":2},{"E":415.16,"I":171,"s":2},{"E":415.31,"I":167.7,"s":2},{"E":415.45,"I":171,"s":2},{"E":415.60,"I":162.7,"s":2},{"E":415.75,"I":151,"s":2},{"E":415.89,"I":147.7,"s":2},{"E":416.04,"I":146,"s":2},{"E":416.19,"I":157.7,"s":2},{"E":416.33,"I":151,"s":2},{"E":416.48,"I":146,"s":2},{"E":416.63,"I":139.4,"s":2},{"E":416.77,"I":131,"s":2},{"E":416.92,"I":144.4,"s":2},{"E":417.07,"I":141,"s":2},{"E":417.22,"I":134.4,"s":2},{"E":417.36,"I":131,"s":2},{"E":417.51,"I":124.4,"s":2},{"E":417.66,"I":117.7,"s":2},{"E":417.80,"I":127.7,"s":2},{"E":417.95,"I":137.7,"s":2},{"E":418.10,"I":147.7,"s":2},{"E":418.24,"I":151,"s":2},{"E":418.39,"I":144.4,"s":2},{"E":418.54,"I":147.7,"s":2},{"E":418.68,"I":151,"s":2},{"E":418.83,"I":154.4,"s":2},{"E":418.98,"I":156,"s":2},{"E":419.12,"I":152.7,"s":2},{"E":419.27,"I":147.7,"s":2},{"E":419.42,"I":149.4,"s":2},{"E":419.57,"I":144.4,"s":2},{"E":419.71,"I":137.7,"s":2},{"E":419.86,"I":132.7,"s":2},{"E":420.01,"I":136,"s":2},{"E":420.15,"I":131,"s":2},{"E":420.30,"I":127.7,"s":2},{"E":420.45,"I":124.4,"s":2},{"E":420.59,"I":122.7,"s":2},{"E":420.74,"I":117.7,"s":2},{"E":420.89,"I":112.7,"s":2},{"E":421.03,"I":107.7,"s":2},{"E":421.18,"I":99.4,"s":2}
   ]},
    "mark": {"type": "line", "color": "#1a1a1a", "strokeWidth": 1},
    "encoding": {
     "x": {"field": "E", "type": "quantitative", "title": "Binding Energy / eV", "scale": {"domain": [395, 425], "nice": false, "zero": false},
       "axis": {"values": [395,397.5,400,402.5,405,407.5,410,412.5,415,417.5,420,422.5,425], "labelExpr": "datum.value % 5 === 0 ? datum.label : ''", "labelOverlap": false, "labelFlush": false, "labelPadding": 1.5, "labelFontSize": 18, "titleY": 32}},
     "y": {"field": "I", "type": "quantitative", "scale": {"domain": [0, 315], "nice": false, "zero": false}, "axis": null},
     "detail": {"field": "s", "type": "nominal"}}},
   {"data": {"values": [{"E": 396.43, "I": 189.7, "I2": 228.7}]}, "mark": {"type": "rule", "color": "#444", "strokeWidth": 1},
    "encoding": {"x": {"field": "E", "type": "quantitative", "title": "Binding Energy / eV"}, "y": {"field": "I", "type": "quantitative", "axis": null}, "y2": {"field": "I2"}}},
   {"data": {"values": [{"E": 397.53, "I": 205.7, "t": "0.2kc/s"}]}, "mark": {"type": "text", "align": "left", "baseline": "middle", "fontSize": 18},
    "encoding": {"x": {"field": "E", "type": "quantitative", "title": "Binding Energy / eV"}, "y": {"field": "I", "type": "quantitative", "axis": null}, "text": {"field": "t"}}},
   {"data": {"values": [{"E": 411.3, "I": 252.7, "t": "N1s"}, {"E": 420.68, "I": 165.7, "t": "2"}, {"E": 421.45, "I": 64.7, "t": "1"}]}, "mark": {"type": "text", "align": "center", "baseline": "middle", "fontSize": 18},
    "encoding": {"x": {"field": "E", "type": "quantitative", "title": "Binding Energy / eV"}, "y": {"field": "I", "type": "quantitative", "axis": null}, "text": {"field": "t"}}},
   {"data": {"values": [{"E": 422.55, "I": 195.7, "t": "e"}]}, "mark": {"type": "text", "align": "center", "baseline": "middle", "fontSize": 21, "font": "Liberation Serif"},
    "encoding": {"x": {"field": "E", "type": "quantitative", "title": "Binding Energy / eV"}, "y": {"field": "I", "type": "quantitative", "axis": null}, "text": {"field": "t"}}}
  ]},
 {"width": 273, "height": 315,
  "layer": [
   {"data": {"values": [
    {"E":528.99,"I":11.7,"s":1},{"E":529.18,"I":17.7,"s":1},{"E":529.33,"I":21,"s":1},{"E":529.45,"I":24.4,"s":1},{"E":529.57,"I":21,"s":1},{"E":529.70,"I":19.4,"s":1},{"E":529.94,"I":20.4,"s":1},{"E":530.15,"I":21,"s":1},{"E":530.46,"I":22.7,"s":1},{"E":530.76,"I":24.4,"s":1},{"E":531.07,"I":25,"s":1},{"E":531.37,"I":26,"s":1},{"E":531.59,"I":24.4,"s":1},{"E":531.83,"I":27.7,"s":1},{"E":532.07,"I":26,"s":1},{"E":532.29,"I":22.7,"s":1},{"E":532.50,"I":21,"s":1},{"E":532.74,"I":26,"s":1},{"E":532.99,"I":29.4,"s":1},{"E":533.20,"I":34.4,"s":1},{"E":533.41,"I":39.4,"s":1},{"E":533.66,"I":44.4,"s":1},{"E":533.84,"I":47.7,"s":1},{"E":533.96,"I":46,"s":1},{"E":534.12,"I":49.4,"s":1},{"E":534.33,"I":51,"s":1},{"E":534.51,"I":47.7,"s":1},{"E":534.73,"I":49.4,"s":1},{"E":534.94,"I":48.4,"s":1},{"E":535.18,"I":46,"s":1},{"E":535.43,"I":44.4,"s":1},{"E":535.64,"I":41,"s":1},{"E":535.85,"I":42.7,"s":1},{"E":536.10,"I":41,"s":1},{"E":536.34,"I":40.4,"s":1},{"E":536.55,"I":42.7,"s":1},{"E":536.77,"I":41,"s":1},{"E":537.01,"I":42.7,"s":1},{"E":537.16,"I":44.4,"s":1},{"E":537.32,"I":47.7,"s":1},{"E":537.47,"I":54.4,"s":1},{"E":537.62,"I":64.4,"s":1},{"E":537.77,"I":81,"s":1},{"E":537.93,"I":101,"s":1},{"E":538.08,"I":121,"s":1},{"E":538.23,"I":137.7,"s":1},{"E":538.38,"I":151,"s":1},{"E":538.54,"I":157.7,"s":1},{"E":538.69,"I":162.7,"s":1},{"E":538.84,"I":164.4,"s":1},{"E":538.99,"I":162.7,"s":1},{"E":539.15,"I":157.7,"s":1},{"E":539.30,"I":147.7,"s":1},{"E":539.45,"I":137.7,"s":1},{"E":539.60,"I":121,"s":1},{"E":539.76,"I":104.4,"s":1},{"E":539.91,"I":91,"s":1},{"E":540.06,"I":77.7,"s":1},{"E":540.21,"I":67.7,"s":1},{"E":540.37,"I":57.7,"s":1},{"E":540.52,"I":47.7,"s":1},{"E":540.67,"I":41,"s":1},{"E":540.82,"I":34.4,"s":1},{"E":540.98,"I":31,"s":1},{"E":541.28,"I":30.4,"s":1},{"E":541.59,"I":31.7,"s":1},{"E":541.83,"I":31,"s":1},{"E":542.04,"I":32.7,"s":1},{"E":542.26,"I":31,"s":1},{"E":542.50,"I":29.4,"s":1},{"E":542.74,"I":28.4,"s":1},{"E":542.96,"I":29.4,"s":1},{"E":543.11,"I":32.7,"s":1},{"E":543.26,"I":34.4,"s":1},{"E":543.48,"I":31.7,"s":1},{"E":543.72,"I":31,"s":1},{"E":543.87,"I":31,"s":1},{"E":544.02,"I":34.4,"s":1},{"E":544.18,"I":36,"s":1},{"E":544.33,"I":32.7,"s":1},{"E":544.48,"I":36,"s":1},{"E":544.63,"I":39.4,"s":1},{"E":544.88,"I":37.7,"s":1},{"E":545.09,"I":41,"s":1},{"E":545.30,"I":37.7,"s":1},{"E":545.55,"I":34.4,"s":1},{"E":545.79,"I":39.4,"s":1},{"E":546.01,"I":44.4,"s":1},{"E":546.16,"I":42.7,"s":1},{"E":546.40,"I":41,"s":1},{"E":546.62,"I":42.7,"s":1},{"E":546.83,"I":39.4,"s":1},{"E":547.07,"I":44.4,"s":1},{"E":547.32,"I":42.7,"s":1},{"E":547.53,"I":44.4,"s":1},{"E":547.74,"I":45,"s":1},{"E":547.99,"I":46,"s":1},{"E":548.23,"I":45.4,"s":1},{"E":548.45,"I":47.7,"s":1},{"E":548.66,"I":47.7,"s":1},{"E":548.84,"I":47.7,"s":1},{"E":549.00,"I":51,"s":1},{"E":549.09,"I":54.4,"s":1},
    {"E":530.00,"I":103.7,"s":2},{"E":530.24,"I":108.4,"s":2},{"E":530.46,"I":112.7,"s":2},{"E":530.61,"I":114.4,"s":2},{"E":530.76,"I":109.4,"s":2},{"E":530.91,"I":106,"s":2},{"E":531.22,"I":107,"s":2},{"E":531.52,"I":109.4,"s":2},{"E":531.83,"I":111,"s":2},{"E":532.13,"I":112.7,"s":2},{"E":532.38,"I":109.4,"s":2},{"E":532.59,"I":114.4,"s":2},{"E":532.80,"I":112.7,"s":2},{"E":533.05,"I":111,"s":2},{"E":533.29,"I":116,"s":2},{"E":533.51,"I":119.4,"s":2},{"E":533.72,"I":114.4,"s":2},{"E":533.96,"I":111,"s":2},{"E":534.21,"I":115,"s":2},{"E":534.42,"I":114.4,"s":2},{"E":534.63,"I":111,"s":2},{"E":534.88,"I":108.4,"s":2},{"E":535.12,"I":106,"s":2},{"E":535.34,"I":107.7,"s":2},{"E":535.55,"I":103.7,"s":2},{"E":535.73,"I":99.4,"s":2},{"E":535.88,"I":106,"s":2},{"E":536.04,"I":104.4,"s":2},{"E":536.25,"I":107.7,"s":2},{"E":536.46,"I":106,"s":2},{"E":536.71,"I":107.7,"s":2},{"E":536.89,"I":109.4,"s":2},{"E":537.07,"I":106,"s":2},{"E":537.26,"I":104.4,"s":2},{"E":537.38,"I":111,"s":2},{"E":537.50,"I":121,"s":2},{"E":537.62,"I":131,"s":2},{"E":537.77,"I":129.4,"s":2},{"E":537.93,"I":131,"s":2},{"E":538.08,"I":142.7,"s":2},{"E":538.23,"I":154.4,"s":2},{"E":538.38,"I":167.7,"s":2},{"E":538.54,"I":181,"s":2},{"E":538.69,"I":194.4,"s":2},{"E":538.84,"I":206,"s":2},{"E":538.99,"I":216,"s":2},{"E":539.15,"I":222.7,"s":2},{"E":539.30,"I":224.4,"s":2},{"E":539.45,"I":226,"s":2},{"E":539.60,"I":231,"s":2},{"E":539.76,"I":236,"s":2},{"E":539.91,"I":239.4,"s":2},{"E":540.06,"I":241.7,"s":2},{"E":540.21,"I":241,"s":2},{"E":540.37,"I":237.7,"s":2},{"E":540.52,"I":227.7,"s":2},{"E":540.67,"I":214.4,"s":2},{"E":540.82,"I":201,"s":2},{"E":540.98,"I":187.7,"s":2},{"E":541.13,"I":177.7,"s":2},{"E":541.28,"I":167.7,"s":2},{"E":541.43,"I":157.7,"s":2},{"E":541.59,"I":147.7,"s":2},{"E":541.74,"I":137.7,"s":2},{"E":541.89,"I":127.7,"s":2},{"E":542.04,"I":121,"s":2},{"E":542.20,"I":117.7,"s":2},{"E":542.44,"I":116,"s":2},{"E":542.65,"I":114.4,"s":2},{"E":542.87,"I":115,"s":2},{"E":543.05,"I":112.7,"s":2},{"E":543.26,"I":111,"s":2},{"E":543.48,"I":109.4,"s":2},{"E":543.66,"I":112.7,"s":2},{"E":543.87,"I":116,"s":2},{"E":544.02,"I":117.7,"s":2},{"E":544.18,"I":114.4,"s":2},{"E":544.33,"I":111,"s":2},{"E":544.48,"I":114.4,"s":2},{"E":544.63,"I":119.4,"s":2},{"E":544.79,"I":121,"s":2},{"E":544.94,"I":117.7,"s":2},{"E":545.09,"I":114.4,"s":2},{"E":545.24,"I":115,"s":2},{"E":545.40,"I":117.7,"s":2},{"E":545.55,"I":121,"s":2},{"E":545.70,"I":122.7,"s":2},{"E":545.85,"I":119.4,"s":2},{"E":546.01,"I":116,"s":2},{"E":546.16,"I":112.7,"s":2},{"E":546.31,"I":114.4,"s":2},{"E":546.52,"I":116,"s":2},{"E":546.77,"I":119.4,"s":2},{"E":547.01,"I":117.7,"s":2},{"E":547.23,"I":121,"s":2},{"E":547.44,"I":122.7,"s":2},{"E":547.68,"I":124.4,"s":2},{"E":547.90,"I":121,"s":2},{"E":548.14,"I":126,"s":2},{"E":548.35,"I":124.4,"s":2},{"E":548.60,"I":127.7,"s":2},{"E":548.84,"I":126,"s":2},{"E":549.06,"I":131,"s":2},{"E":549.21,"I":134.4,"s":2},{"E":549.39,"I":136,"s":2},{"E":549.57,"I":135,"s":2},{"E":549.82,"I":137.7,"s":2},{"E":550.03,"I":137,"s":2}
   ]},
    "mark": {"type": "line", "color": "#1a1a1a", "strokeWidth": 1},
    "encoding": {
     "x": {"field": "E", "type": "quantitative", "title": "Binding Energy / eV", "scale": {"domain": [527.5, 552.5], "nice": false, "zero": false},
       "axis": {"values": [530,532.5,535,537.5,540,542.5,545,547.5,550], "labelExpr": "datum.value % 5 === 0 ? datum.label : ''", "labelOverlap": false, "labelFlush": false, "labelPadding": 1.5, "labelFontSize": 18, "titleY": 39}},
     "y": {"field": "I", "type": "quantitative", "scale": {"domain": [0, 315], "nice": false, "zero": false}, "axis": null},
     "detail": {"field": "s", "type": "nominal"}}},
   {"data": {"values": [{"E": 529.39, "I": 180.7, "I2": 227.7}]}, "mark": {"type": "rule", "color": "#777", "strokeWidth": 1},
    "encoding": {"x": {"field": "E", "type": "quantitative", "title": "Binding Energy / eV"}, "y": {"field": "I", "type": "quantitative", "axis": null}, "y2": {"field": "I2"}}},
   {"data": {"values": [{"E": 530.22, "I": 205.7, "t": "1kc/s"}]}, "mark": {"type": "text", "align": "left", "baseline": "middle", "fontSize": 18},
    "encoding": {"x": {"field": "E", "type": "quantitative", "title": "Binding Energy / eV"}, "y": {"field": "I", "type": "quantitative", "axis": null}, "text": {"field": "t"}}},
   {"data": {"values": [{"E": 542.74, "I": 247.7, "t": "O1s"}, {"E": 548.87, "I": 150.7, "t": "2"}, {"E": 548.87, "I": 64.7, "t": "1"}]}, "mark": {"type": "text", "align": "center", "baseline": "middle", "fontSize": 18},
    "encoding": {"x": {"field": "E", "type": "quantitative", "title": "Binding Energy / eV"}, "y": {"field": "I", "type": "quantitative", "axis": null}, "text": {"field": "t"}}},
   {"data": {"values": [{"E": 550.7, "I": 195.7, "t": "f"}]}, "mark": {"type": "text", "align": "center", "baseline": "middle", "fontSize": 21, "font": "Liberation Serif"},
    "encoding": {"x": {"field": "E", "type": "quantitative", "title": "Binding Energy / eV"}, "y": {"field": "I", "type": "quantitative", "axis": null}, "text": {"field": "t"}}}
  ]}
]
}
